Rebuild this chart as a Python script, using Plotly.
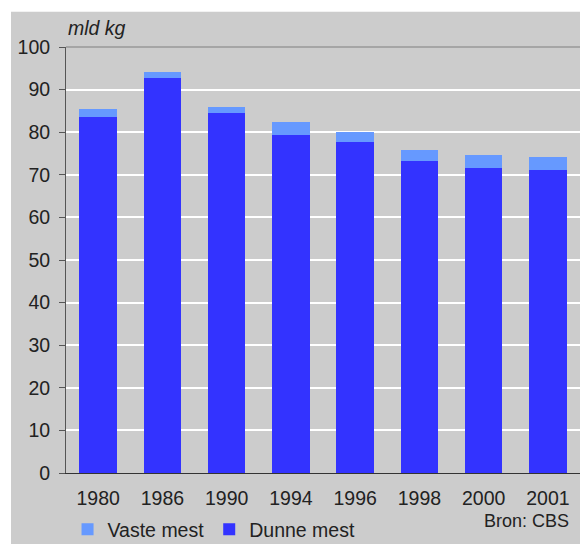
import plotly.graph_objects as go

years = ["1980", "1986", "1990", "1994", "1996", "1998", "2000", "2001"]
dunne_mest = [83.5, 92.8, 84.5, 79.4, 77.7, 73.2, 71.5, 71.2]
vaste_mest = [2.0, 1.3, 1.4, 3.0, 2.4, 2.7, 3.1, 3.0]
y_ticks = [0, 10, 20, 30, 40, 50, 60, 70, 80, 90, 100]

FONT = "Liberation Sans, Arial, sans-serif"
GRAY = "#cccccc"
FS = 19.5

fig = go.Figure()
fig.add_trace(go.Bar(x=years, y=dunne_mest, name="Dunne mest",
                     marker=dict(color="#3333ff", line=dict(width=0)), width=0.58))
fig.add_trace(go.Bar(x=years, y=vaste_mest, name="Vaste mest",
                     marker=dict(color="#6699ff", line=dict(width=0)), width=0.58))

fig.update_layout(
    width=580, height=544,
    barmode="stack",
    paper_bgcolor="white",
    plot_bgcolor=GRAY,
    margin=dict(l=66, r=0, t=47, b=71, pad=0, autoexpand=False),
    font=dict(family=FONT, size=FS, color="#222222"),
    showlegend=True,
    legend=dict(orientation="h", traceorder="reversed", x=0.003, y=-0.133,
                xanchor="left", yanchor="middle", bgcolor="rgba(0,0,0,0)",
                font=dict(size=FS, color="#222222"),
                itemwidth=30),
    xaxis=dict(type="category", range=[-0.5, 7.5], showgrid=False,
               showline=True, linecolor="#333333", linewidth=1,
               ticks="", ticklabelstandoff=8, automargin=False,
               tickfont=dict(size=FS, color="#222222")),
    yaxis=dict(range=[0, 100], tickvals=y_ticks, showgrid=True,
               gridcolor="white", gridwidth=1.5, zeroline=False,
               showline=True, linecolor="#555555", linewidth=1,
               ticks="outside", ticklen=6, tickcolor="#555555",
               ticklabelstandoff=5, automargin=False,
               tickfont=dict(size=FS, color="#222222")),
    shapes=[
        dict(type="rect", xref="paper", yref="paper", x0=-0.107, x1=1.01,
             y0=-0.17, y1=1.083, fillcolor=GRAY, line=dict(width=0),
             layer="below"),
        dict(type="line", xref="paper", yref="paper", x0=0, x1=1, y0=1, y1=1,
             line=dict(color="#999999", width=1.5)),
    ],
    annotations=[
        dict(text="<i>mld kg</i>", xref="paper", yref="paper", x=0.0, y=1.045,
             xanchor="left", yanchor="middle", showarrow=False,
             font=dict(size=FS, color="#222222")),
        dict(text="Bron: CBS", xref="paper", yref="paper", x=0.982, y=-0.1135,
             xanchor="right", yanchor="middle", showarrow=False,
             font=dict(size=18, color="#222222")),
    ],
)

fig.write_html("out.html", config={"displayModeBar": False},
               post_script="document.body.style.margin='0';document.body.style.overflow='hidden';")
